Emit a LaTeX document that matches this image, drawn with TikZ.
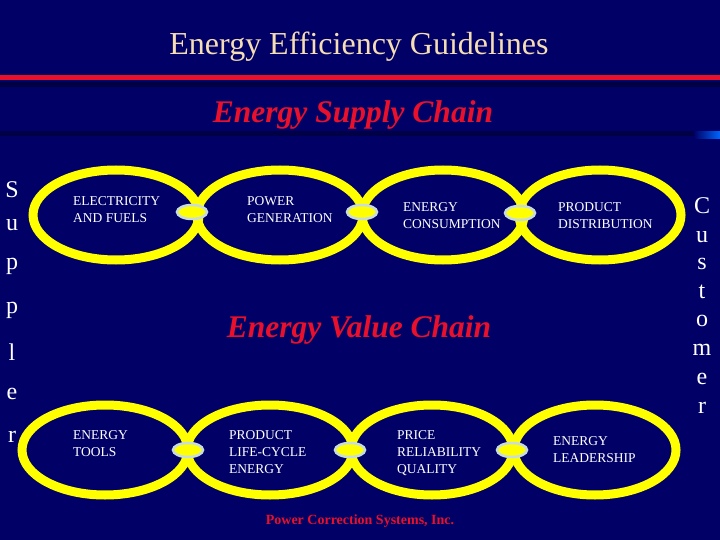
\documentclass[tikz,border=0pt]{standalone}
\usepackage{fontspec}
\setmainfont{Liberation Serif}
\usetikzlibrary{shapes.geometric}
\definecolor{bg}{HTML}{000066}
\definecolor{ring}{HTML}{FFFF00}
\definecolor{redt}{HTML}{E8102A}
\definecolor{peach}{HTML}{F5DEB3}
\definecolor{clasp}{HTML}{C8DCE0}
\begin{document}
\begin{tikzpicture}[x=1pt,y=-1pt,
  ringnode/.style={ellipse,draw=ring,line width=9pt,minimum width=#1,minimum height=90pt,inner sep=0pt},
  ringnode/.default=160pt,
  claspnode/.style={ellipse,draw=clasp,fill=ring,line width=2.5pt,minimum width=30pt,minimum height=14pt,inner sep=0pt},
  lbl/.style={anchor=north west,align=left,text=white,font=\fontsize{13.5}{17}\selectfont,inner sep=0pt},
  side/.style={text=white,font=\fontsize{24}{24}\selectfont,inner sep=0pt},
  sub/.style={text=redt,font=\fontsize{31.5}{31.5}\selectfont\bfseries\itshape}]
\fill[bg] (0,0) rectangle (720,540);
\useasboundingbox (0,0) rectangle (720,540);
\fill[black,opacity=0.35] (0,82) rectangle (720,87);
\fill[black,opacity=0.3] (0,131) rectangle (720,136);
\fill[redt] (0,75) rectangle (720,80);
\shade[left color=bg,right color=blue!60!cyan] (694,132) rectangle (720,139);
\node[text=peach,font=\fontsize{32}{32}\selectfont] (title) at (359,47) {Energy Efficiency Guidelines};
\node[sub] (supply) at (353,115) {Energy Supply Chain};
\node[sub] (value) at (359,330) {Energy Value Chain};
% top rings
\node[ringnode=166pt] (r1) at (116,215) {};
\node[ringnode=166pt] (r2) at (280,215) {};
\node[ringnode=162pt] (r3) at (443,215) {};
\node[ringnode=162pt] (r4) at (600,215) {};
\node[claspnode] (c1) at (192,212) {};
\node[claspnode] (c2) at (362,212) {};
\node[claspnode] (c3) at (520,213) {};
% bottom rings
\node[ringnode=166pt] (b1) at (105,450) {};
\node[ringnode=166pt] (b2) at (270,450) {};
\node[ringnode=162pt] (b3) at (432,450) {};
\node[ringnode=162pt] (b4) at (595,450) {};
\node[claspnode] (d1) at (188,450) {};
\node[claspnode] (d2) at (350,450) {};
\node[claspnode] (d3) at (512,450) {};
% labels
\node[lbl] (t1) at (73,196) {ELECTRICITY\\AND FUELS};
\node[lbl] (t2) at (247,196) {POWER\\GENERATION};
\node[lbl] (t3) at (403,202) {ENERGY\\CONSUMPTION};
\node[lbl] (t4) at (558,202) {PRODUCT\\DISTRIBUTION};
\node[lbl] (u1) at (73,430) {ENERGY\\TOOLS};
\node[lbl] (u2) at (229,430) {PRODUCT\\LIFE-CYCLE\\ENERGY};
\node[lbl] (u3) at (397,430) {PRICE\\RELIABILITY\\QUALITY};
\node[lbl] (u4) at (553,436) {ENERGY\\LEADERSHIP};
\node[text=redt,font=\fontsize{14}{14}\selectfont\bfseries] (pcs) at (360,521) {Power Correction Systems, Inc.};
% side texts
\foreach \ch/\yy [count=\i] in {S/190,u/225,p/266,p/310,l/352,e/394,r/437}
  \node[side] (s\i) at (12,\yy) {\ch};
\foreach \ch/\yy [count=\i] in {C/206,u/237,s/264,t/292,o/321,m/350,e/379,r/408}
  \node[side] (k\i) at (702,\yy) {\ch};
\end{tikzpicture}
\end{document}
